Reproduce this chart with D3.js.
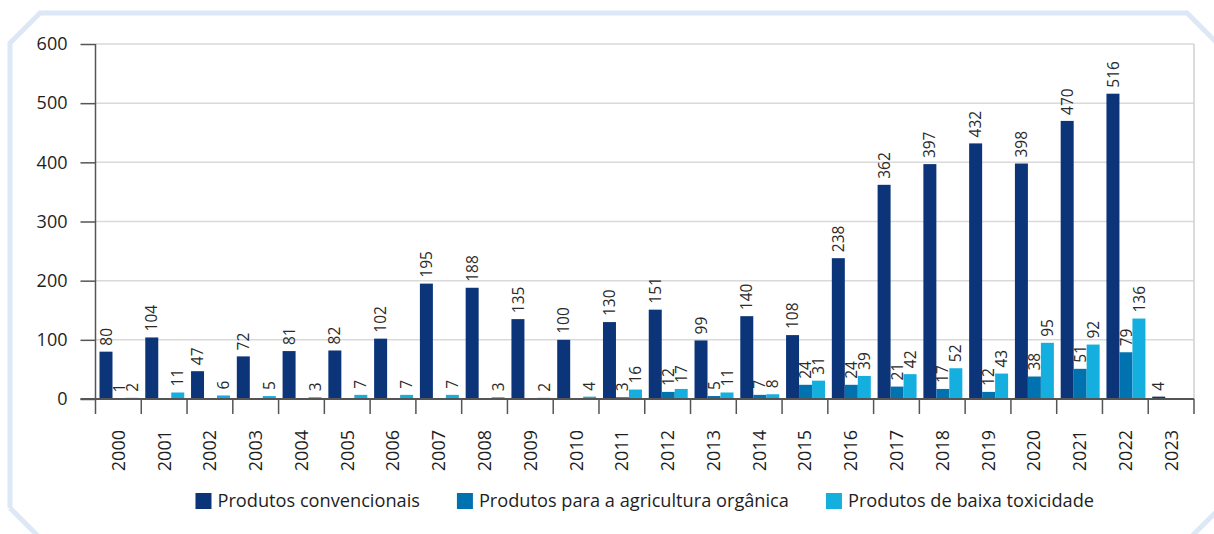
<!DOCTYPE html>
<html>
<head>
<meta charset="utf-8">
<script src="https://cdn.jsdelivr.net/npm/d3@7"></script>
<style>
    body { margin: 0; background: #fff; }
    svg { display: block; font-family: "Open Sans", "Noto Sans", sans-serif; }
</style>
</head>
<body>
<script>
var years = ["2000", "2001", "2002", "2003", "2004", "2005", "2006", "2007", "2008", "2009", "2010", "2011",
    "2012", "2013", "2014", "2015", "2016", "2017", "2018", "2019", "2020", "2021", "2022", "2023"];
var convencionais = [80, 104, 47, 72, 81, 82, 102, 195, 188, 135, 100, 130, 151, 99, 140, 108, 238, 362, 397, 432, 398, 470, 516, 4];
var organica = [1, null, null, null, null, null, null, null, null, null, null, 3, 12, 5, 7, 24, 24, 21, 17, 12, 38, 51, 79, null];
var baixaToxicidade = [2, 11, 6, 5, 3, 7, 7, 7, 3, 2, 4, 16, 17, 11, 8, 31, 39, 42, 52, 43, 95, 92, 136, null];
var seriesNames = ["Produtos convencionais", "Produtos para a agricultura orgânica", "Produtos de baixa toxicidade"];
var yTicks = [0, 100, 200, 300, 400, 500, 600];

(function() {
    var width = 1214, height = 534;
    var colors = ["#0b3479", "#0072b0", "#14afdf"];
    var seriesValues = [convencionais, organica, baixaToxicidade];

    var svg = d3.select("body").append("svg")
        .attr("width", width)
        .attr("height", height);

    // light blue frame with cut corners
    svg.append("path")
        .attr("d", "M10,508 L10,43 L40,13 L1187,13 L1240,66 M1240,488 L1186,542 M38,536 L10,508")
        .attr("fill", "none")
        .attr("stroke", "#dce8f5")
        .attr("stroke-width", 5);

    var plotLeft = 95.5, plotRight = 1194;
    var x0 = d3.scaleBand().domain(years).range([plotLeft, plotRight]);
    var x1 = d3.scaleBand().domain(d3.range(3)).range([4, x0.bandwidth() - 2.8]);
    var y = d3.scaleLinear().domain([0, 600]).range([399, 44]);

    // gridlines
    svg.append("g").selectAll("line")
        .data(yTicks.filter(d => d > 0))
        .enter().append("line")
        .attr("x1", plotLeft).attr("x2", plotRight)
        .attr("y1", d => y(d)).attr("y2", d => y(d))
        .attr("stroke", "#d9d9d9").attr("stroke-width", 1.5);
    svg.append("line")
        .attr("x1", plotRight).attr("x2", plotRight)
        .attr("y1", y(600)).attr("y2", y(0))
        .attr("stroke", "#d0d0d0").attr("stroke-width", 1.5);

    // bars
    var barData = [];
    years.forEach((yr, i) => {
        seriesValues.forEach((vals, s) => {
            if (vals[i] != null) barData.push({ year: yr, s: s, value: vals[i] });
        });
    });

    svg.append("g").selectAll("rect")
        .data(barData)
        .enter().append("rect")
        .attr("x", d => x0(d.year) + x1(d.s))
        .attr("width", x1.bandwidth())
        .attr("y", d => y(d.value))
        .attr("height", d => y(0) - y(d.value))
        .attr("fill", d => colors[d.s]);

    // value labels
    svg.append("g").selectAll("text")
        .data(barData)
        .enter().append("text")
        .attr("transform", d => `translate(${x0(d.year) + x1(d.s) + x1.bandwidth() / 2},${y(d.value) - 6}) rotate(-90)`)
        .attr("dy", "0.36em")
        .attr("font-size", 15.5)
        .attr("fill", "#2a2a2a")
        .text(d => d.value);

    // y axis
    var yAxis = d3.axisLeft(y).tickValues(yTicks).tickSize(15).tickPadding(13);
    var yG = svg.append("g")
        .attr("transform", `translate(${plotLeft},0)`)
        .call(yAxis);
    yG.select(".domain").remove();
    yG.selectAll(".tick line").attr("stroke", "#555").attr("stroke-width", 1.5);
    yG.selectAll(".tick text").attr("font-size", 18).attr("fill", "#1e1e1e")
        .attr("font-family", "\"Open Sans\", sans-serif");
    svg.append("line")
        .attr("x1", plotLeft).attr("x2", plotLeft)
        .attr("y1", y(600)).attr("y2", y(0) + 15)
        .attr("stroke", "#555").attr("stroke-width", 1.5);

    // x axis
    svg.append("line")
        .attr("x1", plotLeft - 15).attr("x2", plotRight)
        .attr("y1", y(0)).attr("y2", y(0))
        .attr("stroke", "#555").attr("stroke-width", 2);
    svg.append("g").selectAll("line")
        .data(years.slice(1).map(d => x0(d)).concat([plotRight]))
        .enter().append("line")
        .attr("x1", d => d).attr("x2", d => d)
        .attr("y1", y(0)).attr("y2", y(0) + 15)
        .attr("stroke", "#555").attr("stroke-width", 1.5);
    svg.append("g").selectAll("text")
        .data(years)
        .enter().append("text")
        .attr("transform", d => `translate(${x0(d) + x0.bandwidth() / 2},430) rotate(-90)`)
        .attr("text-anchor", "end")
        .attr("dy", "0.36em")
        .attr("font-size", 18)
        .attr("fill", "#1e1e1e")
        .text(d => d);

    // legend
    var legend = svg.append("g");
    var items = legend.selectAll("g")
        .data(seriesNames)
        .enter().append("g");
    items.append("rect")
        .attr("y", 493)
        .attr("width", 16).attr("height", 16)
        .attr("fill", (d, i) => colors[i]);
    items.append("text")
        .attr("x", 22)
        .attr("y", 507)
        .attr("font-size", 18.2)
        .attr("fill", "#1e1e1e")
        .text(d => d);
    var offsets = [], pos = 0;
    items.each(function(d, i) {
        offsets.push(pos);
        pos += 22 + d3.select(this).select("text").node().getComputedTextLength() + 37;
    });
    var total = pos - 37;
    var start = (plotLeft + plotRight) / 2 - total / 2;
    items.attr("transform", (d, i) => `translate(${start + offsets[i]},0)`);
})();
</script>
</body>
</html>
